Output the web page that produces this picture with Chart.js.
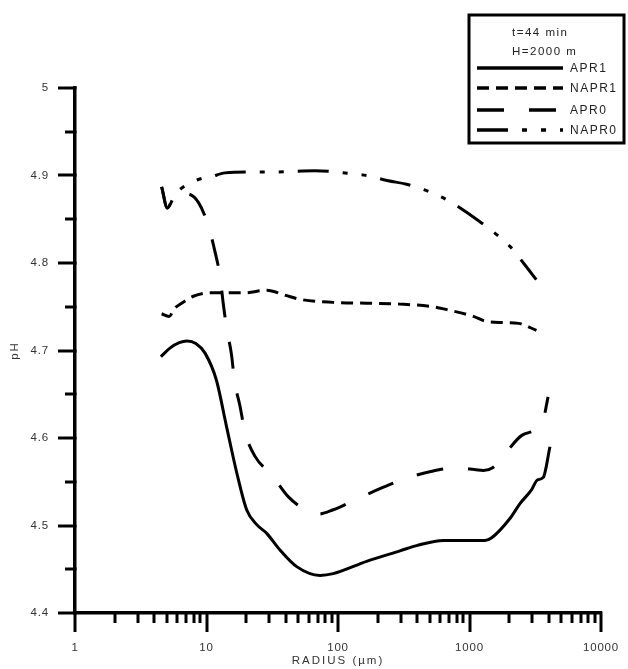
<!DOCTYPE html>
<html>
<head>
<meta charset="utf-8">
<script src="https://cdn.jsdelivr.net/npm/chart.js@4.4.1/dist/chart.umd.min.js"></script>
<style>
  html, body { margin: 0; padding: 0; background: #fff; }
  canvas { display: block; }
</style>
</head>
<body>
<canvas id="chart" width="628" height="669"></canvas>
<script>
// pH of drops versus drop radius, t = 44 min, H = 2000 m
const seriesNames = ['APR1', 'NAPR1', 'APR0', 'NAPR0'];
const headerLines = ['t=44 min', 'H=2000 m'];

const apr1Radius = [4.5, 5.3, 6.2, 7.1, 8.3, 9.75, 11.9, 14.2, 17.0, 20.2, 24.1, 28.7, 36.2, 48.5, 73, 92, 165, 296, 396, 632, 1313, 1475, 2030, 2420, 2970, 3280, 3640, 4090];
const apr1PH     = [4.693, 4.703, 4.709, 4.711, 4.708, 4.697, 4.666, 4.613, 4.560, 4.518, 4.501, 4.491, 4.472, 4.453, 4.443, 4.445, 4.459, 4.471, 4.477, 4.483, 4.483, 4.486, 4.508, 4.525, 4.541, 4.552, 4.555, 4.590];

const napr1Radius = [4.56, 5.2, 5.7, 6.47, 7.94, 10.6, 14.2, 19.6, 28.7, 40, 51.4, 92, 165, 296, 530, 707, 1070, 1360, 1800, 2360, 3230];
const napr1PH     = [4.742, 4.739, 4.748, 4.754, 4.762, 4.766, 4.766, 4.766, 4.769, 4.763, 4.7585, 4.755, 4.754, 4.753, 4.750, 4.746, 4.739, 4.733, 4.732, 4.731, 4.723];

const apr0Radius = [4.56, 5.04, 5.75, 7.07, 8.7, 10.3, 11.6, 12.7, 13.4, 14.2, 15.5, 16.3, 18.0, 19.6, 23.4, 31.3, 41.8, 59.3, 70.6, 92, 138, 215, 330, 518, 800, 1278, 1500, 1800, 2500, 3600, 3960];
const apr0PH     = [4.887, 4.863, 4.878, 4.879, 4.869, 4.843, 4.813, 4.784, 4.754, 4.726, 4.695, 4.666, 4.636, 4.607, 4.579, 4.558, 4.533, 4.516, 4.513, 4.518, 4.530, 4.543, 4.554, 4.562, 4.566, 4.563, 4.566, 4.579, 4.603, 4.619, 4.647];

const napr0Radius = [4.56, 5.04, 5.75, 7.0, 9.4, 10.6, 13.8, 23.4, 31.3, 66.8, 120, 165, 241, 332, 563, 754, 1036, 1360, 2030, 2570, 3220];
const napr0PH     = [4.887, 4.863, 4.878, 4.889, 4.897, 4.898, 4.903, 4.904, 4.904, 4.9055, 4.9025, 4.900, 4.894, 4.890, 4.878, 4.868, 4.854, 4.841, 4.819, 4.800, 4.781];

const xTickValues = [1, 10, 100, 1000, 10000];
const yTickValues = [4.4, 4.5, 4.6, 4.7, 4.8, 4.9, 5];

const toPoints = (xs, ys) => xs.map((x, i) => ({ x: x, y: ys[i] }));

const lineStyles = [
  { borderDash: [] },
  { borderDash: [12, 7] },
  { borderDash: [27, 25] },
  { borderDash: [31, 14, 5, 14, 5, 14] }
];
const seriesData = [
  toPoints(apr1Radius, apr1PH),
  toPoints(napr1Radius, napr1PH),
  toPoints(apr0Radius, apr0PH),
  toPoints(napr0Radius, napr0PH)
];

const datasets = seriesNames.map((name, i) => ({
  label: name,
  data: seriesData[i],
  borderColor: '#000',
  borderWidth: 3,
  borderDash: lineStyles[i].borderDash,
  borderCapStyle: 'butt',
  pointRadius: 0,
  fill: false,
  cubicInterpolationMode: 'monotone'
}));

// letter-spaced axis text
const spacedText = {
  id: 'spacedText',
  beforeDraw(chart) {
    Object.values(chart.scales).forEach(scale => {
      if (scale._spaced) return;
      scale._spaced = true;
      const ctx = chart.ctx;
      const labels = scale.drawLabels;
      const title = scale.drawTitle;
      scale.drawLabels = function () {
        ctx.save(); ctx.letterSpacing = '0.8px';
        labels.apply(this, arguments);
        ctx.restore();
      };
      scale.drawTitle = function () {
        ctx.save(); ctx.letterSpacing = '2px';
        title.apply(this, arguments);
        ctx.restore();
      };
    });
  }
};

// major and minor tick marks outside the plot area
const tickMarks = {
  id: 'tickMarks',
  afterDraw(chart) {
    const ctx = chart.ctx;
    const xs = chart.scales.x, ys = chart.scales.y;
    const area = chart.chartArea;
    ctx.save();
    ctx.strokeStyle = '#000';
    ctx.lineWidth = 3;
    ctx.lineCap = 'butt';
    for (let d = 1; d <= 10000; d *= 10) {
      for (let k = 1; k <= (d === 10000 ? 1 : 9); k++) {
        const px = Math.round(xs.getPixelForValue(d * k));
        const len = k === 1 ? 19 : 10;
        ctx.beginPath();
        ctx.moveTo(px, area.bottom - 1.5);
        ctx.lineTo(px, area.bottom + len);
        ctx.stroke();
      }
    }
    for (let i = 0; i <= 12; i++) {
      const v = 4.4 + i * 0.05;
      const py = Math.round(ys.getPixelForValue(v));
      const len = i % 2 === 0 ? 17 : 10;
      ctx.beginPath();
      ctx.moveTo(area.left + 1.5, py);
      ctx.lineTo(area.left - len, py);
      ctx.stroke();
    }
    ctx.restore();
  }
};

// boxed key with run parameters
const keyBox = {
  id: 'keyBox',
  afterDraw(chart, args, opts) {
    const ctx = chart.ctx;
    const b = opts.box;
    ctx.save();
    ctx.strokeStyle = '#000';
    ctx.lineWidth = 3;
    ctx.setLineDash([]);
    ctx.strokeRect(b.left, b.top, b.right - b.left, b.bottom - b.top);
    ctx.fillStyle = '#222';
    ctx.letterSpacing = '1.5px';
    ctx.textBaseline = 'middle';
    ctx.textAlign = 'left';
    ctx.font = '11.5px "Liberation Sans", Arial, sans-serif';
    headerLines.forEach((t, i) => ctx.fillText(t, opts.headerX, opts.headerY[i]));
    ctx.font = '12px "Liberation Sans", Arial, sans-serif';
    chart.data.datasets.forEach((ds, i) => {
      const y = opts.rowY[i];
      ctx.beginPath();
      ctx.setLineDash(ds.borderDash || []);
      ctx.lineWidth = 3.5;
      ctx.moveTo(opts.lineX0, y);
      ctx.lineTo(opts.lineX1, y);
      ctx.stroke();
      ctx.setLineDash([]);
      ctx.fillText(ds.label, opts.textX, y + 1);
    });
    ctx.restore();
  }
};

new Chart(document.getElementById('chart'), {
  type: 'line',
  data: { datasets: datasets },
  plugins: [spacedText, tickMarks, keyBox],
  options: {
    responsive: false,
    animation: false,
    devicePixelRatio: 1,
    layout: { padding: { top: 88, right: 27, left: 0, bottom: 0 } },
    plugins: {
      legend: { display: false },
      tooltip: { enabled: false },
      keyBox: {
        box: { left: 469, top: 15, right: 624, bottom: 143 },
        headerX: 512, headerY: [33, 52],
        rowY: [68, 88, 110, 130],
        lineX0: 477, lineX1: 563, textX: 570
      }
    },
    scales: {
      x: {
        type: 'logarithmic',
        min: 1, max: 10000,
        afterFit: s => { s.height = 56; s.paddingLeft = 0; s.paddingRight = 0; },
        afterBuildTicks: s => { s.ticks = xTickValues.map(v => ({ value: v })); },
        grid: { display: false, drawTicks: false },
        border: { display: true, color: '#000', width: 3.5 },
        ticks: {
          color: '#333',
          padding: 28,
          maxRotation: 0,
          autoSkip: false,
          font: { family: '"Liberation Sans", Arial, sans-serif', size: 11.5 },
          callback: v => String(v)
        },
        title: {
          display: true, text: 'RADIUS (µm)', color: '#333',
          font: { family: '"Liberation Sans", Arial, sans-serif', size: 11.5 },
          padding: { top: 0, bottom: 1 }
        }
      },
      y: {
        type: 'linear',
        min: 4.4, max: 5,
        afterFit: s => { s.width = 75; },
        afterBuildTicks: s => { s.ticks = yTickValues.map(v => ({ value: v })); },
        grid: { display: false, drawTicks: false },
        border: { display: true, color: '#000', width: 3.5 },
        ticks: {
          color: '#333',
          padding: 26,
          font: { family: '"Liberation Sans", Arial, sans-serif', size: 11.5 },
          callback: v => String(Number(v.toFixed(2)))
        },
        title: {
          display: true, text: 'pH', color: '#333',
          font: { family: '"Liberation Sans", Arial, sans-serif', size: 11.5 },
          padding: { top: 8, bottom: 0 }
        }
      }
    }
  }
});
</script>
</body>
</html>
